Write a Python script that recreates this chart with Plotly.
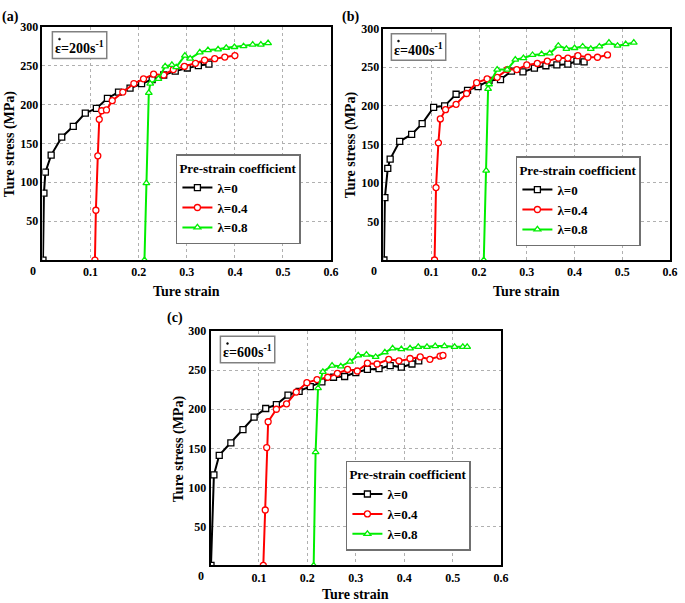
import plotly.graph_objects as go

# ---------------- data ----------------
a_x0 = [0.001, 0.003, 0.006, 0.018, 0.040, 0.064, 0.089, 0.112, 0.135, 0.158, 0.182, 0.206, 0.228, 0.252, 0.276, 0.301, 0.324, 0.346]
a_y0 = [0, 86, 113, 135, 158, 172, 189, 195, 208, 216, 221, 227, 232, 238, 243, 247, 250, 252]
a_x4 = [0.109, 0.111, 0.115, 0.118, 0.123, 0.133, 0.145, 0.167, 0.190, 0.210, 0.231, 0.252, 0.272, 0.295, 0.318, 0.337, 0.358, 0.379, 0.400]
a_y4 = [0, 64, 134, 181, 192, 193, 205, 216, 227, 233, 239, 238, 245, 249, 253, 257, 259, 261, 263]
a_x8 = [0.212, 0.216, 0.221, 0.224, 0.241, 0.255, 0.269, 0.278, 0.296, 0.307, 0.327, 0.344, 0.365, 0.382, 0.399, 0.418, 0.437, 0.454, 0.469]
a_y8 = [0, 99, 215, 227, 233, 249, 251, 248, 263, 259, 267, 270, 271, 273, 274, 275, 277, 277, 279]

b_x0 = [0.001, 0.003, 0.009, 0.014, 0.034, 0.059, 0.081, 0.105, 0.128, 0.152, 0.176, 0.198, 0.221, 0.245, 0.268, 0.292, 0.316, 0.340, 0.363, 0.386, 0.405, 0.420]
b_y0 = [0, 81, 119, 131, 154, 163, 177, 198, 200, 215, 220, 225, 233, 234, 245, 244, 249, 252, 253, 254, 258, 257]
b_x4 = [0.107, 0.110, 0.115, 0.119, 0.130, 0.152, 0.174, 0.195, 0.217, 0.238, 0.259, 0.279, 0.300, 0.322, 0.343, 0.366, 0.386, 0.407, 0.428, 0.448, 0.469]
b_y4 = [0, 94, 152, 183, 195, 202, 216, 230, 235, 237, 247, 247, 253, 255, 258, 262, 262, 265, 263, 263, 266]
b_x8 = [0.210, 0.215, 0.219, 0.221, 0.238, 0.259, 0.276, 0.293, 0.312, 0.331, 0.348, 0.366, 0.383, 0.400, 0.417, 0.434, 0.452, 0.472, 0.490, 0.507, 0.524]
b_y8 = [0, 116, 222, 228, 247, 247, 260, 262, 266, 267, 268, 278, 274, 275, 277, 274, 277, 282, 278, 280, 282]

c_x0 = [0.001, 0.007, 0.018, 0.042, 0.067, 0.090, 0.114, 0.136, 0.160, 0.183, 0.206, 0.230, 0.254, 0.277, 0.300, 0.324, 0.348, 0.371, 0.394, 0.416, 0.430]
c_y0 = [0, 116, 141, 157, 174, 190, 201, 206, 218, 223, 229, 235, 241, 242, 247, 251, 252, 256, 254, 258, 262]
c_x4 = [0.109, 0.113, 0.116, 0.119, 0.136, 0.157, 0.177, 0.199, 0.220, 0.242, 0.262, 0.283, 0.303, 0.324, 0.344, 0.368, 0.389, 0.412, 0.433, 0.453, 0.474, 0.480]
c_y4 = [0, 71, 151, 184, 200, 207, 222, 234, 238, 241, 246, 251, 249, 259, 258, 264, 262, 265, 267, 264, 268, 269]
c_x8 = [0.213, 0.217, 0.222, 0.232, 0.251, 0.269, 0.288, 0.305, 0.322, 0.341, 0.360, 0.376, 0.394, 0.412, 0.429, 0.447, 0.464, 0.483, 0.504, 0.521, 0.530]
c_y8 = [0, 145, 227, 248, 256, 255, 261, 269, 270, 267, 273, 278, 277, 278, 280, 280, 281, 281, 280, 280, 280]

series_names = ["λ=0", "λ=0.4", "λ=0.8"]
rate_labels = ["ε=200s<sup>-1</sup>", "ε=400s<sup>-1</sup>", "ε=600s<sup>-1</sup>"]
panel_labels = ["(a)", "(b)", "(c)"]
x_ticks = [0.1, 0.2, 0.3, 0.4, 0.5, 0.6]
y_ticks = [50, 100, 150, 200, 250, 300]

# ---------------- style ----------------
W, H = 685, 603
FONT = "Liberation Serif"
colors = ["#000000", "#ff0000", "#00ee00"]
symbols = ["square", "circle", "triangle-up"]

# plot areas in pixels: (left, right, top, bottom)
areas = [(43, 335, 20, 256), (388, 678, 22, 256), (213, 507, 328, 565)]
legend_pos = [(178, 149), (522, 151), (350, 459)]
rate_pos = [(53, 25), (396, 27), (223, 333)]   # top-left of the rate box
label_pos = [(0, 0), (344, 0), (167, 305)]
xtitle_off = [32, 32, 29]

panels = [
    [(a_x0, a_y0), (a_x4, a_y4), (a_x8, a_y8)],
    [(b_x0, b_y0), (b_x4, b_y4), (b_x8, b_y8)],
    [(c_x0, c_y0), (c_x4, c_y4), (c_x8, c_y8)],
]

fig = go.Figure()
annotations = []
shapes = []
layout = {}

for p, data in enumerate(panels):
    l, r, t, b = areas[p]
    xa = "xaxis" if p == 0 else f"xaxis{p+1}"
    ya = "yaxis" if p == 0 else f"yaxis{p+1}"
    xref = "x" if p == 0 else f"x{p+1}"
    yref = "y" if p == 0 else f"y{p+1}"
    lg = "legend" if p == 0 else f"legend{p+1}"
    for s, (xs, ys) in enumerate(data):
        fig.add_trace(go.Scatter(
            x=xs, y=ys, mode="lines+markers", name=series_names[s],
            xaxis=xref, yaxis=yref, legend=lg,
            line=dict(color=colors[s], width=2),
            marker=dict(symbol=symbols[s], size=6, color="white",
                        line=dict(color=colors[s], width=1.3)),
        ))
    layout[xa] = dict(
        domain=[l / W, r / W], range=[0, 0.6], anchor=yref,
        tickvals=x_ticks, ticktext=[str(v) for v in x_ticks],
        showgrid=True, gridcolor="#b0b0b0", griddash="dot", gridwidth=1,
        showline=True, linecolor="black", linewidth=1.5, mirror=True,
        ticks="", zeroline=False,
        tickfont=dict(family=FONT, size=12, color="black", weight="bold"),
    )
    layout[ya] = dict(
        domain=[1 - b / H, 1 - t / H], range=[0, 300], anchor=xref,
        tickvals=y_ticks, ticktext=[str(v) for v in y_ticks],
        showgrid=True, gridcolor="#b0b0b0", griddash="dot", gridwidth=1,
        showline=True, linecolor="black", linewidth=1.5, mirror=True,
        ticks="", zeroline=False,
        tickfont=dict(family=FONT, size=12, color="black", weight="bold"),
    )
    lx, ly = legend_pos[p]
    layout[lg] = dict(
        x=lx / W, y=1 - ly / H, xanchor="left", yanchor="top",
        bgcolor="white", bordercolor="#707070", borderwidth=1.5,
        font=dict(family=FONT, size=13, color="black", weight="bold"),
        title=dict(text="Pre-strain coefficient",
                   font=dict(family=FONT, size=13, color="black", weight="bold")),
        tracegroupgap=0, itemwidth=30,
    )
    # "0" corner label
    annotations.append(dict(
        text="0", xref="paper", yref="paper", x=(l - 10) / W, y=1 - (b + 11) / H,
        xanchor="center", yanchor="middle", showarrow=False,
        font=dict(family=FONT, size=12, color="black", weight="bold"),
    ))
    # axis titles
    annotations.append(dict(
        text="Ture strain", xref="paper", yref="paper", x=((l + r) / 2) / W, y=1 - (b + xtitle_off[p]) / H,
        xanchor="center", yanchor="middle", showarrow=False,
        font=dict(family=FONT, size=14, color="black", weight="bold"),
    ))
    annotations.append(dict(
        text="Ture stress (MPa)", xref="paper", yref="paper", x=(l - 32) / W, y=1 - ((t + b) / 2) / H,
        xanchor="center", yanchor="middle", showarrow=False, textangle=-90,
        font=dict(family=FONT, size=14, color="black", weight="bold"),
    ))
    # strain-rate box
    rx, ry = rate_pos[p]
    bw, bh = 55, 27
    shapes.append(dict(
        type="rect", xref="paper", yref="paper",
        x0=rx / W, x1=(rx + bw) / W, y0=1 - (ry + bh) / H, y1=1 - ry / H,
        line=dict(color="#808080", width=1.5), fillcolor="white", layer="above",
    ))
    annotations.append(dict(
        text=rate_labels[p], xref="paper", yref="paper", x=(rx + bw / 2) / W, y=1 - (ry + bh / 2 + 2) / H,
        xanchor="center", yanchor="middle", showarrow=False,
        font=dict(family=FONT, size=14, color="black", weight="bold"),
    ))
    # dot over epsilon
    shapes.append(dict(
        type="circle", xref="paper", yref="paper",
        x0=(rx + 6.2) / W, x1=(rx + 8.2) / W, y0=1 - (ry + 8.5) / H, y1=1 - (ry + 6.5) / H,
        line=dict(color="black", width=0.5), fillcolor="black", layer="above",
    ))
    px, py = label_pos[p]
    annotations.append(dict(
        text=panel_labels[p], xref="paper", yref="paper", x=px / W, y=1 - py / H,
        xanchor="left", yanchor="top", showarrow=False,
        font=dict(family=FONT, size=14, color="black", weight="bold"),
    ))

fig.update_layout(
    width=W, height=H, margin=dict(l=0, r=0, t=0, b=0),
    paper_bgcolor="white", plot_bgcolor="white",
    annotations=annotations, shapes=shapes, **layout,
)

fig.write_html(
    "out.html",
    config={"displayModeBar": False},
    post_script=(
        "document.body.style.margin='0';"
        "var d=document.getElementById('{plot_id}');"
        "d.style.position='absolute';d.style.left='0px';d.style.top='0px';"
    ),
)
